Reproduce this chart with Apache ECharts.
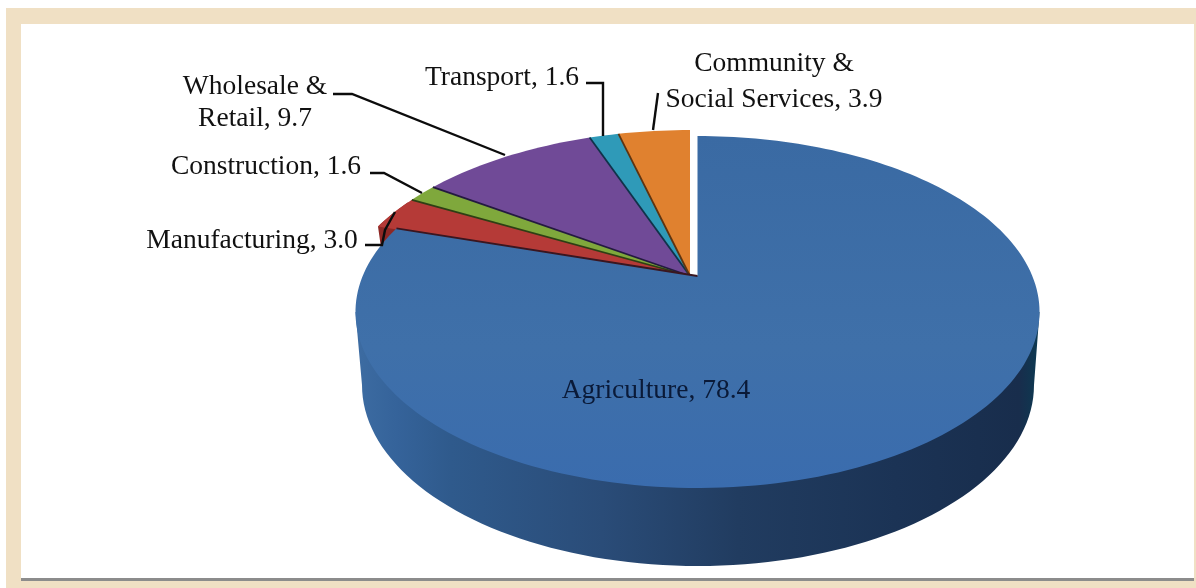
<!DOCTYPE html>
<html>
<head>
<meta charset="utf-8">
<style>html,body{margin:0;padding:0;background:#fff}#chart{width:1196px;height:588px}</style>
<script src="https://cdn.jsdelivr.net/npm/echarts@6/dist/echarts.min.js"></script>
</head>
<body>
<div id="chart"></div>
<script>
// Sector shares of employment
const sectors = ['Agriculture', 'Manufacturing', 'Construction', 'Wholesale &\nRetail', 'Transport', 'Community &\nSocial Services'];
const shares = [78.4, 3.0, 1.6, 9.7, 1.6, 3.9];
const sliceColors = ['#3d6ea8', '#b53a37', '#7fa83c', '#704a97', '#2f9ab8', '#e0812f'];
const edgeColors = ['#3a1620', '#5c1612', '#2e3f14', '#241a40', '#10324a', '#5e3410'];

// Label centres, line spacing and leader polylines, one per sector
const labelCentres = [[656, 391], [252, 241], [266, 167], [255, 103], [502, 78], [774, 82]];
const labelLineHeights = [36, 36, 36, 32, 36, 36];
const leaders = [
  null,
  [[365, 245], [382, 245], [385, 230], [395, 212]],
  [[370, 173], [384, 173], [422, 193]],
  [[333, 94], [352, 94], [505, 155]],
  [[586, 83], [603, 83], [603, 136]],
  [[658, 93], [653, 130]]
];

// Perspective disc: far side is compressed, near side is stretched
const TILT = 0.2045;
const body = {cx: 697.5, cy: 276, rx: 334.8, ry: 168.6};
const pulled = {cx: 690, cy: 276, rx: 347, ry: 175.8};
const base = {cx: 698, cy: 385, rx: 336, ry: 181};
const RAD = Math.PI / 180;

const total = shares.reduce((a, b) => a + b, 0);
const angles = [];
shares.reduce((acc, v) => {
  angles.push([acc / total * 360, (acc + v) / total * 360]);
  return acc + v;
}, 0);

function project(d, deg) {
  const x = Math.sin(deg * RAD), y = Math.cos(deg * RAD), w = 1 + TILT * y;
  return [d.cx + d.rx * x / w, d.cy - d.ry * y / w];
}

function sectorPoints(d, a0, a1) {
  const n = Math.max(4, Math.ceil((a1 - a0) / 1.5));
  const pts = [[d.cx, d.cy]];
  for (let i = 0; i <= n; i++) pts.push(project(d, a0 + (a1 - a0) * i / n));
  return pts;
}

// Visible wall of the large slice: near half of the rim swept down to the base
function wallPoints() {
  const w = 1 / Math.sqrt(1 - TILT * TILT);
  const topY = body.cy + body.ry * TILT / (1 - TILT * TILT);
  const pts = [[body.cx + body.rx * w, topY]];
  for (let t = 0; t <= 180; t += 2) {
    pts.push([base.cx + base.rx * Math.cos(t * RAD), base.cy + base.ry * Math.sin(t * RAD)]);
  }
  pts.push([body.cx - body.rx * w, topY]);
  return pts;
}

function seam(d, deg, color, z2) {
  const p = project(d, deg);
  return {
    type: 'line', z2,
    shape: {x1: d.cx, y1: d.cy, x2: p[0], y2: p[1]},
    style: {stroke: color, lineWidth: 1.8}
  };
}

function renderSlice(params) {
  const i = params.dataIndex;
  const [a0, a1] = angles[i];
  const children = [];
  const disc = i === 0 ? body : pulled;

  if (i === 0) {
    children.push({
      type: 'polygon', z2: 8, shape: {points: wallPoints()},
      style: {
        fill: new echarts.graphic.LinearGradient(0, 0, 1, 0, [
          {offset: 0, color: '#3d6ca2'},
          {offset: 0.06, color: '#35639a'},
          {offset: 0.14, color: '#2f5a8c'},
          {offset: 0.36, color: '#2a4c78'},
          {offset: 0.56, color: '#213c60'},
          {offset: 0.79, color: '#1b3355'},
          {offset: 0.97, color: '#182d4c'},
          {offset: 1, color: '#0c3a52'}
        ])
      }
    });
  }
  if (i === 1) {
    const wall = [];
    for (let t = a0; t <= a1; t += 1) wall.push(project(disc, t));
    for (let t = a1; t >= a0; t -= 1) {
      const p = project(disc, t);
      wall.push([p[0], p[1] + 22]);
    }
    children.push({type: 'polygon', z2: 3, shape: {points: wall}, style: {fill: '#8e2825'}});
  }
  children.push({
    type: 'polygon', z2: i === 0 ? 10 : 5, shape: {points: sectorPoints(disc, a0, a1)},
    style: {
      fill: i === 0
        ? new echarts.graphic.LinearGradient(0, 0, 0, 1, [
            {offset: 0, color: '#3a6aa3'},
            {offset: 0.6, color: '#3f70a9'},
            {offset: 1, color: '#3a6cae'}
          ])
        : sliceColors[i]
    }
  });
  // Shadowed seams where the slices meet
  if (i === 0) children.push(seam(disc, a1, edgeColors[0], 11));
  else if (i > 1) children.push(seam(disc, a0, edgeColors[i], 6));

  if (leaders[i]) {
    children.push({
      type: 'polyline', z2: 20, shape: {points: leaders[i]},
      style: {stroke: '#0c0c0c', lineWidth: 2.4, fill: null}
    });
  }
  const text = sectors[i] + ', ' + shares[i].toFixed(1);
  children.push({
    type: 'text', z2: 30,
    style: {
      text, x: labelCentres[i][0], y: labelCentres[i][1],
      align: 'center', verticalAlign: 'middle',
      font: '27.5px "Liberation Serif"', lineHeight: labelLineHeights[i],
      fill: i === 0 ? '#0a1a38' : '#111111'
    }
  });
  return {type: 'group', children};
}

const chart = echarts.init(document.getElementById('chart'), null, {renderer: 'canvas'});
chart.setOption({
  animation: false,
  backgroundColor: '#ffffff',
  graphic: [
    {type: 'rect', z: -2, shape: {x: 6, y: 8, width: 1190, height: 580}, style: {fill: '#f0e0c4'}},
    {type: 'rect', z: -2, shape: {x: 21, y: 24, width: 1173, height: 554}, style: {fill: '#ffffff'}},
    {type: 'rect', z: -2, shape: {x: 21, y: 578, width: 1173, height: 3}, style: {fill: '#8c8c8c'}}
  ],
  series: [{
    type: 'custom',
    coordinateSystem: 'none',
    renderItem: renderSlice,
    data: shares.map((v, i) => ({name: sectors[i], value: v}))
  }]
});
</script>
</body>
</html>
